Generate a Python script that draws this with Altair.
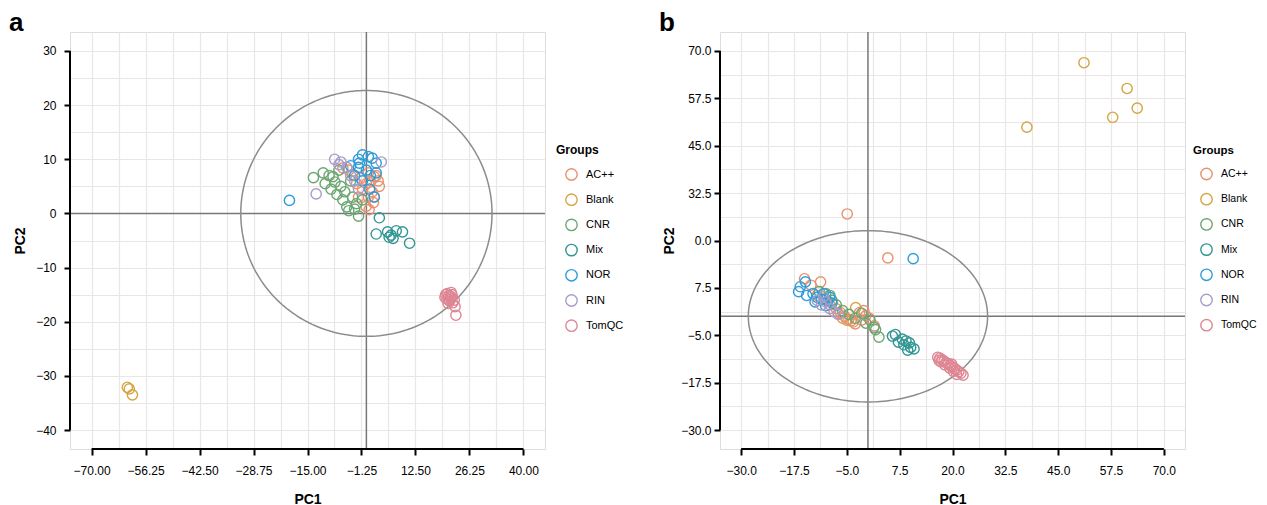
import altair as alt
import numpy as np
import pandas as pd

GROUPS = ["AC++", "Blank", "CNR", "Mix", "NOR", "RIN", "TomQC"]
COLORS = ["#E8916F", "#D4A442", "#6BA672", "#2E9593", "#2D9CD8", "#A89CC8", "#DE8694"]

# ---------------- panel a ----------------
a_acpp_x = [-6.0, -4.5, -3.5, -1.5, 0.0, 1.0, 2.0, 3.3, 1.5, 0.5, -0.1, 0.7, 2.0, -1.0, -2.5, 0.5, 2.5, -2.0, 1.8, 3.0]
a_acpp_y = [8.4, 8.0, 7.2, 6.5, 5.5, 6.0, 6.8, 5.0, 4.0, 3.0, 1.3, 0.7, 3.1, 4.5, 5.5, 7.5, 7.0, 3.0, 2.0, 6.0]
a_blank_x = [-60.9, -60.4, -59.6]
a_blank_y = [-32.1, -32.4, -33.5]
a_cnr_x = [-13.5, -11.0, -10.5, -9.0, -8.5, -7.5, -6.5, -6.0, -5.0, -4.5, -3.0, -2.0, -3.5, -4.0, -7.0, -2.5, -1.0, -9.5, -5.5, -8.0]
a_cnr_y = [6.6, 7.5, 5.5, 4.5, 6.8, 3.5, 5.0, 2.5, 1.2, 0.5, 0.8, -0.5, 3.0, 6.0, 8.0, 1.8, 2.5, 7.0, 4.0, 5.8]
a_mix_x = [3.3, 2.5, 5.4, 6.3, 5.8, 9.2, 11.0, 7.6, 6.8]
a_mix_y = [-0.8, -3.8, -3.4, -4.0, -4.4, -3.4, -5.5, -3.2, -4.6]
a_nor_x = [-19.6, -1.0, 0.5, 1.5, -2.0, 2.5, 2.5, 2.0, -1.8, -3.0, -1.0, 0.0, -2.0, 1.0, -4.0, 0.8]
a_nor_y = [2.4, 10.8, 10.5, 10.2, 10.0, 9.3, 7.5, 3.0, 9.3, 7.0, 6.0, 8.0, 8.5, 7.0, 8.8, 4.5]
a_rin_x = [-12.8, -8.1, 3.8, -6.5, -5.0, -4.0, -3.0, -2.0, -7.0]
a_rin_y = [3.6, 10.0, 9.5, 9.5, 8.5, 7.0, 6.0, 4.5, 9.0]
a_tom_x = [20.2, 20.6, 21.0, 21.4, 21.8, 20.5, 21.2, 22.0, 22.4, 21.6, 20.8, 22.6, 22.8, 21.0, 20.0, 21.5]
a_tom_y = [-15.0, -14.8, -15.2, -15.6, -15.0, -15.8, -16.2, -16.5, -16.0, -14.6, -16.6, -17.2, -18.8, -15.9, -15.5, -15.3]

a_x_ticks = [-70.0, -56.25, -42.5, -28.75, -15.0, -1.25, 12.5, 26.25, 40.0]
a_y_ticks = [-40, -30, -20, -10, 0, 10, 20, 30]
a_ellipse = (32.0, 22.7)

# ---------------- panel b ----------------
b_acpp_x = [-4.9, 4.7, -15.0, -11.2, -13.5, -12.0, -10.0, -9.0, -7.5, -6.5, -5.5, -4.5, -3.5, -2.0, -1.5, -0.5, 0.3, -3.0, -4.0, -6.0, -7.0, -1.0, 1.5]
b_acpp_y = [27.0, 15.4, 9.9, 9.1, 8.2, 5.5, 4.5, 3.0, 2.0, 1.0, 0.0, -0.8, -1.5, 1.0, -1.0, 0.2, -0.5, -2.0, -1.2, -0.5, 0.8, 1.5, -2.5]
b_blank_x = [51.1, 61.3, 63.7, 57.9, 37.6, -2.9, -5.0]
b_blank_y = [66.9, 60.1, 54.9, 52.5, 49.9, 2.3, -1.0]
b_cnr_x = [-11.5, -10.0, -9.0, -8.5, -7.5, -6.0, -4.5, -3.0, -1.5, 0.5, 1.4, 2.6, 1.8, -0.5]
b_cnr_y = [6.5, 6.0, 5.5, 4.2, 3.0, 1.5, 0.5, -0.5, 0.8, -1.0, -2.9, -5.5, -3.5, -1.8]
b_mix_x = [5.8, 6.5, 8.1, 9.0, 9.4, 10.1, 10.9, 8.5, 7.2, 9.8]
b_mix_y = [-5.2, -4.8, -6.0, -6.5, -8.9, -8.2, -8.6, -7.5, -6.8, -7.0]
b_nor_x = [10.7, -16.0, -14.8, -16.4, -14.5, -13.0, -12.0, -11.0, -10.5, -9.5, -10.0, -8.5, -9.0, -12.5]
b_nor_y = [15.2, 7.8, 9.1, 6.5, 5.5, 6.0, 5.0, 4.5, 6.0, 4.0, 2.8, 3.5, 5.0, 3.8]
b_rin_x = [-12.0, -11.0, -10.0, -9.0, -8.0, -10.5, -7.0]
b_rin_y = [4.2, 3.0, 3.8, 2.0, 1.2, 5.2, 0.5]
b_tom_x = [16.5, 17.0, 17.5, 18.0, 18.5, 19.0, 19.5, 20.0, 20.5, 21.0, 21.5, 22.0, 22.5, 18.2, 19.3, 20.2, 17.3, 21.0, 16.8, 19.8]
b_tom_y = [-10.8, -11.0, -11.4, -11.8, -12.2, -12.5, -13.0, -13.4, -13.8, -14.2, -14.6, -15.0, -15.5, -12.8, -13.6, -14.5, -12.0, -15.3, -11.6, -12.6]

b_x_ticks = [-30.0, -17.5, -5.0, 7.5, 20.0, 32.5, 45.0, 57.5, 70.0]
b_y_ticks = [-30.0, -17.5, -5.0, 7.5, 20.0, 32.5, 45.0, 57.5, 70.0]
b_ellipse = (28.3, 22.6)


def build_df(series):
    rows = []
    for g, (xs, ys) in zip(GROUPS, series):
        for x, y in zip(xs, ys):
            rows.append({"Groups": g, "PC1": x, "PC2": y})
    return pd.DataFrame(rows)


def ellipse_df(rx, ry):
    t = np.linspace(0, 2 * np.pi, 241)
    return pd.DataFrame({"ex": rx * np.cos(t), "ey": ry * np.sin(t), "i": np.arange(len(t))})


def with_minors(ticks):
    step = ticks[1] - ticks[0]
    vals = list(ticks) + [t + step / 2 for t in ticks] + [ticks[0] - step / 2]
    return sorted(vals)


GRID = "#ECE5E5"


def panel(df, x_ticks, y_ticks, xdom, ydom, ell, label, W, H, xfmt, yfmt,
          ylab_pad, ytitle_pad, legend_x, leg_font, leg_title_font, sym_off, ylabel_expr=None):
    xs = alt.Scale(domain=xdom, nice=False, zero=False)
    ys = alt.Scale(domain=ydom, nice=False, zero=False)
    one = alt.Data(values=[{}])

    xg = [v for v in with_minors(x_ticks) if xdom[0] <= v <= xdom[1]]
    yg = [v for v in with_minors(y_ticks) if ydom[0] <= v <= ydom[1]]

    grid = alt.Chart(df).mark_point(opacity=0).encode(
        x=alt.X("PC1:Q", scale=xs, axis=alt.Axis(orient="bottom", values=xg, grid=True, labels=False,
                                                  ticks=False, domain=False, title=None,
                                                  gridColor=GRID, gridWidth=1.2)),
        y=alt.Y("PC2:Q", scale=ys, axis=alt.Axis(orient="left", values=yg, grid=True, labels=False,
                                                  ticks=False, domain=False, title=None,
                                                  gridColor=GRID, gridWidth=1.2)),
    )

    zx = alt.Chart(one).mark_rule(color="#777777", strokeWidth=1.5).encode(
        x=alt.XDatum(0, axis=None, scale=xs))
    zy = alt.Chart(one).mark_rule(color="#777777", strokeWidth=1.5).encode(
        y=alt.YDatum(0, axis=None, scale=ys))

    edf = ellipse_df(*ell)
    ellipse = alt.Chart(edf).mark_line(color="#8C8C8C", strokeWidth=1.5).encode(
        x=alt.X("ex:Q", scale=xs, axis=None),
        y=alt.Y("ey:Q", scale=ys, axis=None),
        order="i:Q",
    )

    yaxis_kw = dict(orient="left", values=y_ticks, format=yfmt, grid=False, domain=False,
                    tickSize=6, tickWidth=2, tickColor="black", labelPadding=ylab_pad,
                    labelFontSize=12, labelColor="black", title="PC2", titleFontSize=14,
                    titleFontWeight="bold", titleColor="black", titlePadding=ytitle_pad)
    if ylabel_expr:
        yaxis_kw["labelExpr"] = ylabel_expr

    pts = alt.Chart(df).mark_point(filled=False, size=105, strokeWidth=1.4, opacity=1).encode(
        x=alt.X("PC1:Q", scale=xs,
                axis=alt.Axis(orient="bottom", values=x_ticks, format=xfmt, grid=False, domain=False,
                              tickSize=6, tickWidth=2, tickColor="black", labelPadding=10,
                              labelFontSize=12, labelColor="black", title="PC1", titleFontSize=14,
                              titleFontWeight="bold", titleColor="black", titlePadding=16)),
        y=alt.Y("PC2:Q", scale=ys, axis=alt.Axis(**yaxis_kw)),
        color=alt.Color("Groups:N", scale=alt.Scale(domain=GROUPS, range=COLORS),
                        legend=alt.Legend(title="Groups", orient="none", legendX=legend_x, legendY=113,
                                          symbolType="circle", symbolSize=130, symbolStrokeWidth=1.4,
                                          symbolOffset=sym_off, labelOffset=8, titleFontSize=leg_title_font,
                                          titleFontWeight="bold", titleColor="black", labelFontSize=leg_font,
                                          labelColor="black", rowPadding=6.2, titlePadding=11, padding=0)),
    )

    fx = alt.Chart(one).mark_rule(color="black", strokeWidth=2).encode(
        x=alt.XDatum(x_ticks[0], axis=None, scale=xs), x2=alt.X2Datum(x_ticks[-1]), y=alt.value(H))
    fy = alt.Chart(one).mark_rule(color="black", strokeWidth=2).encode(
        y=alt.YDatum(y_ticks[0], axis=None, scale=ys), y2=alt.Y2Datum(y_ticks[-1]), x=alt.value(0))

    return alt.layer(grid, zx, zy, ellipse, pts, fx, fy).resolve_axis(
        x="independent", y="independent"
    ).properties(
        width=W, height=H,
        title=alt.TitleParams(label, anchor="start", frame="group", dx=-61, fontSize=26,
                              fontWeight="bold", color="black", baseline="alphabetic", offset=-25.5),
    )


df_a = build_df([(a_acpp_x, a_acpp_y), (a_blank_x, a_blank_y), (a_cnr_x, a_cnr_y), (a_mix_x, a_mix_y),
                 (a_nor_x, a_nor_y), (a_rin_x, a_rin_y), (a_tom_x, a_tom_y)])
df_b = build_df([(b_acpp_x, b_acpp_y), (b_blank_x, b_blank_y), (b_cnr_x, b_cnr_y), (b_mix_x, b_mix_y),
                 (b_nor_x, b_nor_y), (b_rin_x, b_rin_y), (b_tom_x, b_tom_y)])

pa = panel(df_a, a_x_ticks, a_y_ticks, [-75.5, 45.5], [-43.5, 33.5], a_ellipse, "a", 475, 417,
           ".2f", "d", 8, 8, 486, 11, 12, 9)
pb = panel(df_b, b_x_ticks, b_y_ticks, [-35.0, 75.0], [-35.0, 75.0], b_ellipse, "b", 465, 417,
           ".1f", ".1f", 3, 4, 473, 10.5, 11.5, 7,
           ylabel_expr="datum.value == 20 ? '0.0' : datum.label")

chart = alt.hconcat(pa, pb, spacing=33).resolve_scale(color="independent").properties(
    padding={"left": 0, "top": 1, "right": 0, "bottom": 0}
).configure_view(stroke=None).configure(font="Liberation Sans")

chart.save("out.html", embed_options={"renderer": "svg", "actions": False})
